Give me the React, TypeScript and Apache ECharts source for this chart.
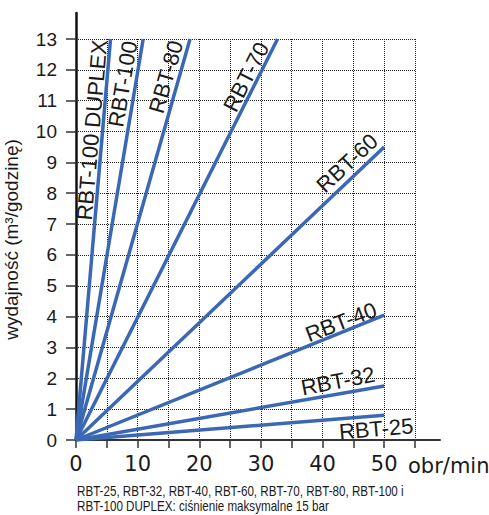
import React, { useEffect, useRef } from "react";
import * as echarts from "echarts";

// ---- data ----
const seriesNames = ["RBT-25", "RBT-32", "RBT-40", "RBT-60", "RBT-70", "RBT-80", "RBT-100", "RBT-100 DUPLEX"];
const endRpm = [50, 50, 50, 50, 32.7, 18.5, 10.9, 5.6];
const endFlow = [0.8, 1.75, 4.05, 9.5, 13, 13, 13, 13];
const xTickLabels = [0, 10, 20, 30, 40, 50];
const yTickLabels = [0, 1, 2, 3, 4, 5, 6, 7, 8, 9, 10, 11, 12, 13];
const xAxisTitle = "obr/min";
const yAxisTitle = "wydajność (m³/godzinę)";
const footnoteLines = [
  "RBT-25, RBT-32, RBT-40, RBT-60, RBT-70, RBT-80, RBT-100 i",
  "RBT-100 DUPLEX: ciśnienie maksymalne 15 bar",
];

// ---- label layout (data-coordinate anchors, degrees) ----
const labelLayout = [
  { x: 48.7, y: 0.36, rot: 5 },
  { x: 42.5, y: 1.91, rot: 11 },
  { x: 43.0, y: 3.82, rot: 21 },
  { x: 44.0, y: 8.98, rot: 43 },
  { x: 27.6, y: 11.77, rot: 63 },
  { x: 14.6, y: 11.77, rot: 74 },
  { x: 7.6, y: 11.54, rot: 80.5 },
  { x: 2.6, y: 10.05, rot: 85 },
];

const LINE_COLOR = "#3a68b4";
const TEXT_COLOR = "#1a1a1a";

export default function App() {
  const ref = useRef<HTMLDivElement>(null);

  useEffect(() => {
    if (!ref.current) return;
    const chart = echarts.init(ref.current, null, { renderer: "svg" });

    const gridLine = { show: true, lineStyle: { color: "#222", width: 1, type: [1, 1] as any } };

    const option: any = {
      animation: false,
      grid: [
        { left: 76, top: 39, right: 74, bottom: 75, containLabel: false, outerBoundsMode: "none" },
        { left: 76, top: 13, right: 49, bottom: 75, containLabel: false, outerBoundsMode: "none" },
      ],
      xAxis: [
        {
          type: "value",
          gridIndex: 0,
          min: 0,
          max: 55,
          interval: 5,
          axisLine: { show: false },
          axisTick: { show: true, length: 8, lineStyle: { color: "#333", width: 1.5 } },
          axisLabel: {
            margin: 13,
            fontFamily: "DejaVu Sans",
            fontSize: 21,
            color: TEXT_COLOR,
            formatter: (v: number) => (xTickLabels.indexOf(v) >= 0 ? String(v) : ""),
          },
          splitLine: gridLine,
        },
        {
          type: "value",
          gridIndex: 1,
          min: 0,
          max: 59.1,
          axisLine: { show: true, onZero: false, lineStyle: { color: "#333", width: 2 } },
          axisTick: { show: false },
          axisLabel: { show: false },
          splitLine: { show: false },
        },
      ],
      yAxis: [
        {
          type: "value",
          gridIndex: 0,
          min: 0,
          max: 13,
          interval: 1,
          name: yAxisTitle,
          nameLocation: "middle",
          nameGap: 55,
          nameRotate: 90,
          nameTextStyle: { fontFamily: "Liberation Sans", fontSize: 19, color: TEXT_COLOR },
          axisLine: { show: false },
          axisTick: { show: true, length: 10, lineStyle: { color: "#333", width: 1.5 } },
          axisLabel: {
            margin: 19,
            fontFamily: "Liberation Sans",
            fontSize: 19,
            color: TEXT_COLOR,
            formatter: (v: number) => (yTickLabels.indexOf(v) >= 0 ? String(v) : ""),
          },
          splitLine: gridLine,
        },
        {
          type: "value",
          gridIndex: 1,
          min: 0,
          max: 13.84,
          axisLine: { show: true, onZero: false, lineStyle: { color: "#111", width: 2.5 } },
          axisTick: { show: false },
          axisLabel: { show: false },
          splitLine: { show: false },
        },
      ],
      series: seriesNames.map((name, i) => ({
        name,
        type: "line",
        xAxisIndex: 0,
        yAxisIndex: 0,
        symbol: "none",
        z: 3,
        lineStyle: { color: LINE_COLOR, width: 3.5 },
        data: [
          [0, 0],
          [endRpm[i], endFlow[i]],
        ],
      })),
    };

    chart.setOption(option);

    const labels = labelLayout.map((l, i) => {
      const [px, py] = chart.convertToPixel({ xAxisIndex: 0, yAxisIndex: 0 }, [l.x, l.y]) as number[];
      return {
        type: "text",
        x: px,
        y: py,
        rotation: (l.rot * Math.PI) / 180,
        z: 10,
        style: {
          text: seriesNames[i],
          fill: TEXT_COLOR,
          fontFamily: "Liberation Sans",
          fontSize: 22,
          align: "center",
          verticalAlign: "middle",
          textAlign: "center",
          textVerticalAlign: "middle",
        },
      };
    });

    const notes = footnoteLines.map((t, i) => ({
      type: "text",
      x: 77,
      y: 484 + i * 15,
      scaleX: 0.83,
      z: 10,
      style: {
        text: t,
        fill: TEXT_COLOR,
        fontFamily: "Liberation Sans",
        fontSize: 14,
        align: "left",
        verticalAlign: "top",
        textAlign: "left",
        textVerticalAlign: "top",
      },
    }));

    chart.setOption({
      graphic: [
        ...labels,
        ...notes,
        {
          type: "text",
          x: 408,
          y: 466,
          z: 10,
          style: {
            text: xAxisTitle,
            fill: TEXT_COLOR,
            fontFamily: "DejaVu Sans",
            fontSize: 21,
            align: "left",
            verticalAlign: "middle",
            textAlign: "left",
            textVerticalAlign: "middle",
          },
        },
      ],
    });

    return () => chart.dispose();
  }, []);

  return <div ref={ref} style={{ position: "absolute", left: 0, top: 0, width: 489, height: 515 }} />;
}
